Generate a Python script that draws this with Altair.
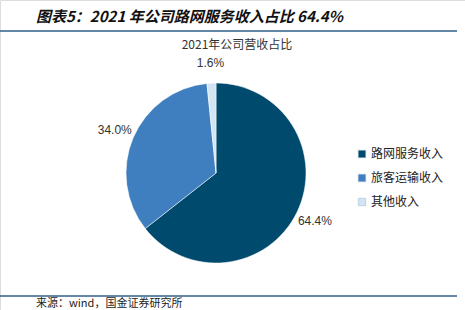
import altair as alt
import pandas as pd

categories = ["路网服务收入", "旅客运输收入", "其他收入"]
shares = [64.4, 34.0, 1.6]
labels = ["64.4%", "34.0%", "1.6%"]
colors = ["#004A6E", "#3F7FBF", "#D3E5F3"]

heading = "图表5：2021 年公司路网服务收入占比 64.4%"
chart_title = "2021年公司营收占比"
source = "来源：wind，国金证券研究所"

df = pd.DataFrame({"cat": categories, "share": shares, "label": labels, "idx": [0, 1, 2]})

CJK = "Noto Sans CJK SC"
cx, cy = 216, 173

color_scale = alt.Scale(domain=categories, range=colors)

pie = alt.Chart(df).mark_arc(outerRadius=90, stroke="white", strokeWidth=0.5).encode(
    theta=alt.Theta("share:Q", stack=True),
    order=alt.Order("idx:Q"),
    color=alt.Color(
        "cat:N",
        scale=color_scale,
        sort=categories,
        legend=alt.Legend(
            title=None,
            orient="none",
            legendX=356,
            legendY=148,
            symbolType="square",
            symbolSize=55,
            symbolStrokeColor="#9DB8CF",
            symbolStrokeWidth=0.5,
            labelFont=CJK,
            labelFontSize=12,
            labelColor="#222222",
            rowPadding=12,
            labelOffset=3,
        ),
    ),
    x=alt.value(cx),
    y=alt.value(cy),
)

txt = alt.Chart(df).mark_text(radius=110, font="Liberation Sans", fontSize=12, color="#333333").encode(
    theta=alt.Theta("share:Q", stack=True),
    order=alt.Order("idx:Q"),
    text="label:N",
    x=alt.value(cx),
    y=alt.value(cy),
)

hdr = pd.DataFrame({"t": [heading]})
head = alt.Chart(hdr).mark_text(
    font=CJK, fontSize=15, fontWeight="bold", fontStyle="italic", align="left", baseline="middle", color="#111111"
).encode(text="t:N", x=alt.value(36), y=alt.value(17))

ttl = alt.Chart(pd.DataFrame({"t": [chart_title]})).mark_text(
    font=CJK, fontSize=12, align="center", baseline="middle", color="#333333"
).encode(text="t:N", x=alt.value(237), y=alt.value(45))

src = alt.Chart(pd.DataFrame({"t": [source]})).mark_text(
    font=CJK, fontSize=11, align="left", baseline="middle", color="#222222"
).encode(text="t:N", x=alt.value(36), y=alt.value(304))

rule_df = pd.DataFrame({"k": [0]})
top_rule = alt.Chart(rule_df).mark_rule(color="#2F5F8A", strokeWidth=1.5).encode(
    x=alt.value(0), x2=alt.value(457), y=alt.value(31)
)
bot_rule = alt.Chart(rule_df).mark_rule(color="#2F5F8A", strokeWidth=1.5).encode(
    x=alt.value(0), x2=alt.value(457), y=alt.value(296)
)

chart = alt.layer(pie, txt, head, ttl, src, top_rule, bot_rule).properties(
    width=465, height=310, autosize=alt.AutoSizeParams(type="none"), padding=0
).configure_view(stroke=None).configure(background="white")

chart.save("out.html", embed_options={"renderer": "svg", "actions": False})
